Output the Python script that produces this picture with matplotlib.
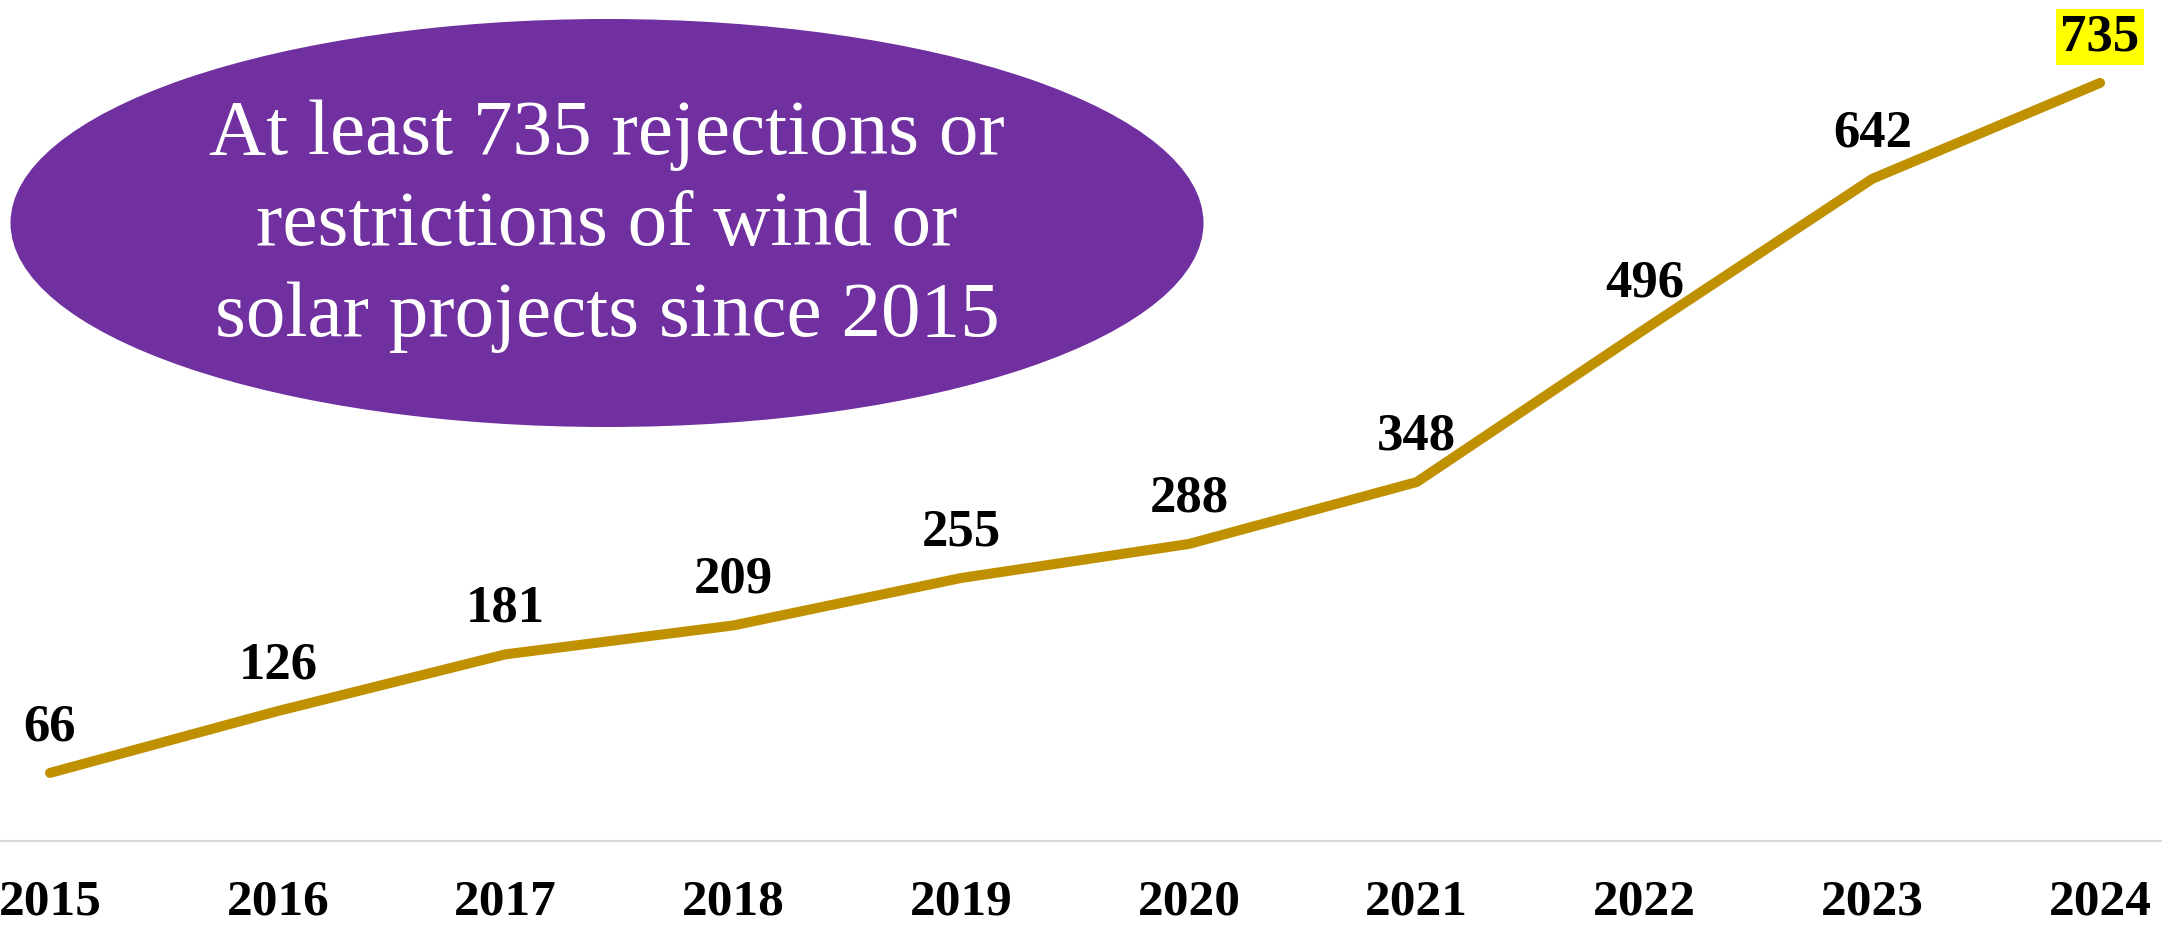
import matplotlib
matplotlib.use("Agg")
import matplotlib.pyplot as plt
from matplotlib.patches import Ellipse

plt.rcParams.update({
    'font.family': ['Liberation Serif', 'DejaVu Serif'],
    'font.weight': 'bold',
})

years = ["2015", "2016", "2017", "2018", "2019", "2020", "2021", "2022", "2023", "2024"]
counts = [66, 126, 181, 209, 255, 288, 348, 496, 642, 735]
headline = "At least 735 rejections or\nrestrictions of wind or\nsolar projects since 2015"

LINE = "#BF9000"
PURPLE = "#7030A0"

W, H = 2162, 927
fig = plt.figure(figsize=(W / 100, H / 100), dpi=100)
ax = fig.add_axes([0, 86 / H, 1, 841 / H])

xs = list(range(len(years)))
ax.plot(xs, counts, color=LINE, lw=7.2, solid_capstyle="round", zorder=3)

for i, (x, v) in enumerate(zip(xs, counts)):
    box = None
    if i == len(counts) - 1:
        box = dict(boxstyle="square,pad=0.08", fc="#FFFF00", ec="none")
    ax.annotate(str(v), (x, v), xytext=(0, 33), textcoords="offset points",
                ha="center", va="center", fontsize=38, fontweight="bold",
                color="black", bbox=box, zorder=4)

ax.set_xlim(-0.2195, 9.272)
ax.set_ylim(0, 815.4)
ax.set_xticks(xs)
ax.set_xticklabels(years, fontsize=37, fontweight="bold")
ax.set_yticks([])
ax.tick_params(axis="x", length=0, pad=28)
for s in ["top", "left", "right"]:
    ax.spines[s].set_visible(False)
ax.spines["bottom"].set_color("#D9D9D9")
ax.spines["bottom"].set_linewidth(1.5)

ell = Ellipse((607 / W, 1 - 223 / H), 1193 / W, 408 / H,
              transform=fig.transFigure, fc=PURPLE, ec="none", zorder=5)
fig.add_artist(ell)
fig.text(607 / W, 1 - 226 / H, headline, ha="center", va="center",
         color="white", fontsize=57, fontweight="normal", linespacing=1.36,
         zorder=6)

fig.savefig("out.png", dpi=100)
